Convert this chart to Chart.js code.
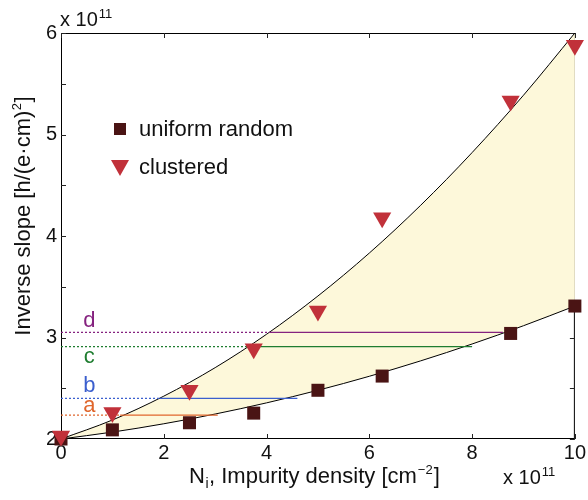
<!DOCTYPE html>
<html>
<head>
<meta charset="utf-8">
<script src="https://cdn.jsdelivr.net/npm/chart.js@4.4.1/dist/chart.umd.min.js"></script>
<style>
  body { margin: 0; background: #fff; }
</style>
</head>
<body>
<canvas id="slopeChart" width="588" height="500"></canvas>
<script>
// measured densities (x 10^11 cm^-2)
const densities = [0, 1, 2.5, 3.75, 5, 6.25, 8.75, 10];
const uniformRandom = [2.0, 2.09, 2.16, 2.255, 2.48, 2.62, 3.04, 3.31];
const clustered = [2.03, 2.26, 2.48, 2.89, 3.26, 4.18, 5.33, 5.88];

// guide curves
const curveX = [0, 1, 2, 3, 4, 5, 6, 7, 8, 9, 10];
const upperCurve = [2.0, 2.187, 2.422, 2.703, 3.032, 3.409, 3.832, 4.303, 4.822, 5.387, 6.0];
const lowerCurve = [2.0, 2.068, 2.150, 2.246, 2.356, 2.48, 2.618, 2.77, 2.936, 3.116, 3.31];

// horizontal levels a-d
const levelNames = ['a', 'b', 'c', 'd'];
const levelY = [2.235, 2.40, 2.91, 3.05];
const levelUpperX = [1.15, 1.92, 3.65, 4.05];
const levelLowerX = [3.05, 4.6, 8.0, 8.6];
const levelColors = ['#e0662c', '#3b5fce', '#1f7d30', '#85227f'];

const xTicks = [0, 2, 4, 6, 8, 10];
const yTicks = [2, 3, 4, 5, 6];

const FONT = '"Liberation Sans", Arial, sans-serif';
const squareColor = '#4a1414';
const triangleColor = '#c1313a';

const toPts = (xs, ys) => xs.map((x, i) => ({ x: x, y: ys[i] }));

let datasets = [
    {
        label: 'upper',
        data: toPts(curveX, upperCurve),
        showLine: true,
        borderColor: '#000',
        borderWidth: 1,
        pointRadius: 0,
        cubicInterpolationMode: 'monotone',
        fill: { target: '+1', above: '#fdf8da', below: '#fdf8da' },
        order: 6
    },
    {
        label: 'lower',
        data: toPts(curveX, lowerCurve),
        showLine: true,
        borderColor: '#000',
        borderWidth: 1,
        pointRadius: 0,
        cubicInterpolationMode: 'monotone',
        fill: false,
        order: 5
    }
];

for (let i = 0; i < levelNames.length; i++) {
    datasets.push({
        label: levelNames[i],
        data: [
            { x: 0, y: levelY[i] },
            { x: levelUpperX[i], y: levelY[i] },
            { x: levelLowerX[i], y: levelY[i] }
        ],
        showLine: true,
        borderColor: levelColors[i],
        borderWidth: 1.2,
        pointRadius: 0,
        fill: false,
        segment: {
            borderDash: ctx => ctx.p0DataIndex === 0 ? [2, 2] : undefined
        },
        order: 3
    });
}

datasets.push({
    label: 'uniform random',
    data: toPts(densities, uniformRandom),
    showLine: false,
    clip: false,
    pointStyle: 'rect',
    pointRadius: 9.2,
    pointHoverRadius: 9.2,
    backgroundColor: squareColor,
    borderColor: squareColor,
    borderWidth: 0,
    order: 2
});

datasets.push({
    label: 'clustered',
    data: toPts(densities, clustered),
    showLine: false,
    clip: false,
    pointStyle: 'triangle',
    rotation: 180,
    pointRadius: 10.5,
    pointHoverRadius: 10.5,
    backgroundColor: triangleColor,
    borderColor: triangleColor,
    borderWidth: 0,
    order: 1
});

// frame, inward ticks, labels, legend
const decorations = {
    id: 'decorations',
    beforeDatasetsDraw(chart) {
        const ctx = chart.ctx;
        const area = chart.chartArea;
        const xs = chart.scales.x;
        const ys = chart.scales.y;
        ctx.save();
        ctx.setLineDash([]);

        // frame
        ctx.strokeStyle = '#000';
        ctx.lineWidth = 1;
        ctx.strokeRect(area.left + 0.5, area.top + 0.5, area.right - area.left - 1, area.bottom - area.top - 1);

        // inward ticks on all four sides
        ctx.strokeStyle = '#222';
        ctx.beginPath();
        xTicks.forEach(v => {
            const px = Math.round(xs.getPixelForValue(v)) + 0.5;
            ctx.moveTo(px, area.bottom); ctx.lineTo(px, area.bottom - 5);
            ctx.moveTo(px, area.top); ctx.lineTo(px, area.top + 5);
        });
        for (let v = 2; v <= 6; v += 0.5) {
            const py = Math.round(ys.getPixelForValue(v)) + 0.5;
            ctx.moveTo(area.left, py); ctx.lineTo(area.left + 5, py);
            ctx.moveTo(area.right, py); ctx.lineTo(area.right - 5, py);
        }
        ctx.stroke();
        ctx.restore();
    },
    afterDraw(chart) {
        const ctx = chart.ctx;
        const xs = chart.scales.x;
        const ys = chart.scales.y;
        ctx.save();

        // level letters
        ctx.font = '22px ' + FONT;
        ctx.textAlign = 'center';
        ctx.textBaseline = 'middle';
        const letterOffset = [-9, -12, 10, -11];
        for (let i = 0; i < levelNames.length; i++) {
            ctx.fillStyle = levelColors[i];
            ctx.fillText(levelNames[i], xs.getPixelForValue(0.55), ys.getPixelForValue(levelY[i]) + letterOffset[i]);
        }

        // legend
        ctx.fillStyle = squareColor;
        ctx.fillRect(114, 123, 12, 12);
        ctx.fillStyle = triangleColor;
        ctx.beginPath();
        ctx.moveTo(111, 160); ctx.lineTo(129, 160); ctx.lineTo(120, 176);
        ctx.closePath(); ctx.fill();
        ctx.fillStyle = '#111';
        ctx.textAlign = 'left';
        ctx.textBaseline = 'alphabetic';
        ctx.font = '22px ' + FONT;
        ctx.fillText('uniform random', 139, 136);
        ctx.fillText('clustered', 139, 174);

        // exponent markers
        const drawExp = (x, y) => {
            ctx.font = '20px ' + FONT;
            ctx.textAlign = 'left';
            ctx.fillText('x 10', x, y);
            const w = ctx.measureText('x 10').width;
            ctx.font = '13px ' + FONT;
            ctx.fillText('11', x + w + 1, y - 8);
        };
        drawExp(60, 26);
        drawExp(503, 484);

        // x axis title with subscript
        let x0 = 189, y0 = 483;
        ctx.font = '22px ' + FONT;
        ctx.fillText('N', x0, y0);
        x0 += ctx.measureText('N').width;
        ctx.font = '14px ' + FONT;
        ctx.fillText('i', x0 + 0.5, y0 + 5);
        x0 += ctx.measureText('i').width + 1;
        ctx.font = '22px ' + FONT;
        const mid = ', Impurity density [cm';
        ctx.fillText(mid, x0, y0);
        x0 += ctx.measureText(mid).width;
        ctx.font = '13px ' + FONT;
        ctx.fillText('\u22122', x0 + 1, y0 - 9);
        x0 += ctx.measureText('\u22122').width + 2;
        ctx.font = '22px ' + FONT;
        ctx.fillText(']', x0, y0);

        // y axis title (rotated) with superscript
        ctx.translate(30, 216);
        ctx.rotate(-Math.PI / 2);
        ctx.font = '22px ' + FONT;
        const yMain = 'Inverse slope [h/(e\u00b7cm)';
        const wMain = ctx.measureText(yMain).width;
        ctx.font = '13px ' + FONT;
        const wSup = ctx.measureText('2').width;
        ctx.font = '22px ' + FONT;
        const wEnd = ctx.measureText(']').width;
        let sx = -(wMain + wSup + 1 + wEnd) / 2;
        ctx.fillText(yMain, sx, 0);
        sx += wMain;
        ctx.font = '13px ' + FONT;
        ctx.fillText('2', sx + 0.5, -9);
        sx += wSup + 1;
        ctx.font = '22px ' + FONT;
        ctx.fillText(']', sx, 0);

        ctx.restore();
    }
};

new Chart(document.getElementById('slopeChart'), {
    type: 'scatter',
    data: { datasets: datasets },
    options: {
        responsive: false,
        animation: false,
        layout: { padding: { top: 33, right: 12, left: 0, bottom: 0 } },
        plugins: {
            legend: { display: false },
            tooltip: { enabled: false }
        },
        scales: {
            x: {
                type: 'linear',
                min: 0,
                max: 10,
                afterBuildTicks: scale => { scale.ticks = xTicks.map(v => ({ value: v })); },
                ticks: {
                    color: '#111',
                    font: { family: FONT, size: 20 },
                    padding: 2,
                    maxRotation: 0,
                    callback: v => String(v)
                },
                grid: { display: false, drawTicks: false },
                border: { display: false },
                afterFit: scale => { scale.height = 61; }
            },
            y: {
                type: 'linear',
                min: 2,
                max: 6,
                afterBuildTicks: scale => { scale.ticks = yTicks.map(v => ({ value: v })); },
                ticks: {
                    color: '#111',
                    font: { family: FONT, size: 20 },
                    padding: 4,
                    callback: v => String(v)
                },
                grid: { display: false, drawTicks: false },
                border: { display: false },
                afterFit: scale => { scale.width = 61; }
            }
        }
    },
    plugins: [decorations]
});
</script>
</body>
</html>
